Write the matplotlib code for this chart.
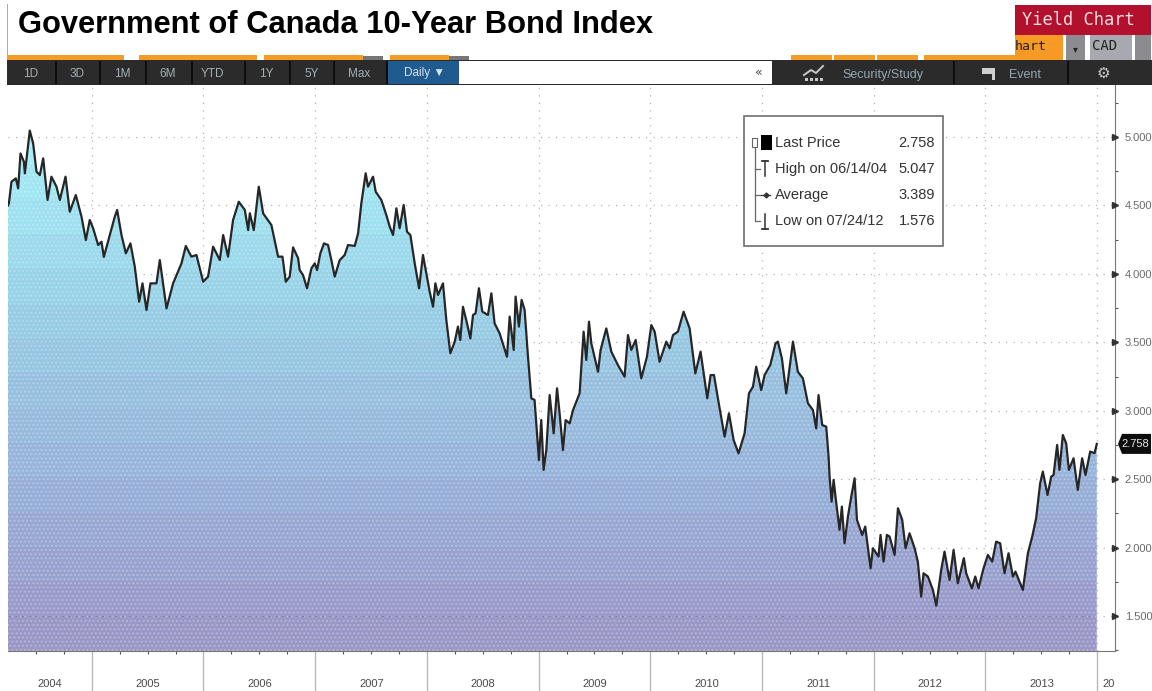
import numpy as np
import matplotlib
matplotlib.use("Agg")
import matplotlib.pyplot as plt
from matplotlib.colors import LinearSegmentedColormap
from matplotlib.patches import Polygon, Rectangle

TITLE = "Government of Canada 10-Year Bond Index"
YEAR_LABELS = ["2004", "2005", "2006", "2007", "2008", "2009", "2010", "2011", "2012", "2013", "20"]
YEAR_LABEL_POS = [2004.62, 2005.5, 2006.5, 2007.5, 2008.5, 2009.5, 2010.5, 2011.5, 2012.5, 2013.5, 2014.1]
YEAR_EDGES = list(range(2005, 2015))
Y_TICKS = [1.5, 2.0, 2.5, 3.0, 3.5, 4.0, 4.5, 5.0]
BUTTONS = ["1D", "3D", "1M", "6M", "YTD", "1Y", "5Y", "Max"]
LEGEND_ROWS = [("Last Price", "2.758"), ("High on 06/14/04", "5.047"),
               ("Average", "3.389"), ("Low on 07/24/12", "1.576")]
LAST_PRICE = 2.758

dates = [2004.25,2004.258,2004.281,2004.32,2004.341,2004.362,2004.392,2004.401,2004.445,2004.475,2004.505,2004.535,2004.565,2004.604,2004.639,2004.684,2004.714,2004.765,2004.803,2004.857,2004.908,2004.947,2004.982,
2005.012,2005.057,2005.087,2005.108,2005.161,2005.206,2005.227,2005.266,2005.305,2005.346,2005.385,2005.424,2005.454,2005.49,2005.525,2005.579,2005.609,2005.669,2005.728,2005.803,2005.842,2005.892,2005.937,2005.997,
2006.041,2006.086,2006.146,2006.176,2006.22,2006.265,2006.316,2006.37,2006.4,2006.415,2006.45,2006.495,2006.534,2006.608,2006.668,2006.707,2006.737,2006.772,2006.802,2006.847,2006.861,2006.891,2006.927,2006.966,2006.996,
2007.017,2007.046,2007.079,2007.115,2007.145,2007.175,2007.219,2007.264,2007.294,2007.354,2007.384,2007.413,2007.452,2007.473,2007.518,2007.542,2007.592,2007.637,2007.667,2007.697,2007.727,2007.756,2007.792,2007.822,2007.852,2007.891,2007.93,2007.965,2007.995,
2008.025,2008.055,2008.076,2008.1,2008.144,2008.174,2008.21,2008.249,2008.278,2008.299,2008.323,2008.359,2008.389,2008.413,2008.436,2008.466,2008.496,2008.547,2008.577,2008.606,2008.651,2008.717,2008.741,2008.777,2008.794,2008.824,2008.848,2008.875,2008.905,2008.935,2008.964,
2009.003,2009.024,2009.045,2009.069,2009.099,2009.135,2009.165,2009.188,2009.218,2009.242,2009.278,2009.308,2009.367,2009.403,2009.427,2009.451,2009.472,2009.532,2009.555,2009.606,2009.651,2009.71,2009.77,2009.8,2009.83,2009.869,2009.919,2009.97,
2010.009,2010.039,2010.083,2010.143,2010.173,2010.203,2010.247,2010.298,2010.352,2010.403,2010.45,2010.51,2010.54,2010.57,2010.605,2010.665,2010.704,2010.746,2010.79,2010.844,2010.883,2010.919,2010.948,2010.993,
2011.023,2011.074,2011.121,2011.142,2011.178,2011.217,2011.277,2011.321,2011.366,2011.411,2011.456,2011.485,2011.506,2011.539,2011.575,2011.596,2011.605,2011.623,2011.641,2011.665,2011.694,2011.715,2011.739,2011.769,2011.799,2011.829,2011.85,2011.897,2011.924,2011.972,2011.993,
2012.043,2012.061,2012.088,2012.118,2012.142,2012.187,2012.217,2012.255,2012.285,2012.321,2012.366,2012.395,2012.425,2012.446,2012.485,2012.53,2012.56,2012.604,2012.634,2012.679,2012.715,2012.753,2012.807,2012.828,2012.879,2012.909,2012.938,2012.983,
2013.022,2013.061,2013.096,2013.132,2013.171,2013.207,2013.246,2013.269,2013.335,2013.38,2013.419,2013.454,2013.49,2013.514,2013.556,2013.589,2013.61,2013.642,2013.663,2013.693,2013.723,2013.747,2013.789,2013.827,2013.866,2013.896,2013.938,2013.977,2013.997]

yields = [4.50,4.515,4.673,4.698,4.625,4.88,4.82,4.734,5.047,4.954,4.747,4.722,4.844,4.54,4.71,4.637,4.54,4.71,4.454,4.576,4.418,4.247,4.394,
4.333,4.211,4.235,4.124,4.284,4.418,4.467,4.284,4.15,4.223,4.053,3.797,3.931,3.736,3.931,3.931,4.101,3.748,3.931,4.077,4.204,4.126,4.138,3.943,
3.98,4.199,4.101,4.284,4.126,4.394,4.527,4.467,4.32,4.443,4.32,4.637,4.442,4.357,4.126,4.126,3.943,3.98,4.194,4.114,4.028,3.992,3.895,4.04,4.077,
4.028,4.15,4.223,4.211,4.10,3.98,4.10,4.138,4.211,4.204,4.296,4.515,4.735,4.637,4.71,4.60,4.54,4.43,4.345,4.284,4.479,4.333,4.503,4.308,4.284,4.077,3.895,4.138,4.004,
3.87,3.76,3.931,3.846,3.931,3.663,3.42,3.505,3.615,3.517,3.76,3.639,3.529,3.70,3.712,3.895,3.724,3.70,3.858,3.639,3.566,3.395,3.688,3.444,3.834,3.615,3.81,3.736,3.395,3.091,3.079,
2.64,2.933,2.568,2.714,3.115,2.835,3.164,2.981,2.713,2.932,2.908,3.005,3.127,3.578,3.371,3.651,3.492,3.285,3.444,3.602,3.432,3.334,3.249,3.553,3.444,3.517,3.237,3.395,
3.626,3.578,3.358,3.505,3.456,3.553,3.578,3.724,3.602,3.273,3.432,3.091,3.261,3.261,3.091,2.811,2.981,2.786,2.689,2.835,3.127,3.176,3.322,3.151,
3.261,3.334,3.492,3.505,3.383,3.127,3.505,3.285,3.237,3.055,3.005,2.871,3.115,2.896,2.884,2.665,2.519,2.336,2.495,2.324,2.13,2.3,2.032,2.227,2.373,2.507,2.203,2.093,2.154,1.849,1.996,
1.935,2.093,1.898,2.093,2.081,1.947,2.288,2.203,1.996,2.105,1.996,1.898,1.642,1.813,1.789,1.691,1.576,1.837,1.971,1.764,1.983,1.74,1.923,1.813,1.703,1.789,1.703,1.849,
1.947,1.898,2.044,2.032,1.813,1.959,1.789,1.825,1.691,1.959,2.081,2.215,2.47,2.556,2.385,2.519,2.531,2.75,2.568,2.823,2.762,2.568,2.653,2.422,2.653,2.531,2.702,2.69,2.758]

W, H = 1152, 691
fig = plt.figure(figsize=(W / 100, H / 100), dpi=100, facecolor="white")

L, R, T, B = 8, 1115, 85, 651
ax = fig.add_axes([L / W, 1 - B / H, (R - L) / W, (B - T) / H])
ax.set_xlim(2004.25, 2014.16)
ax.set_ylim(1.245, 5.38)

ax.grid(True, axis="both", color="#b4b4b4", ls=(0, (1, 5)), lw=0.9, zorder=1)
ax.set_axisbelow(True)
ax.set_xticks(YEAR_EDGES)
ax.set_yticks(Y_TICKS)
ax.set_yticks(np.arange(1.25, 5.3, 0.5), minor=True)
ax.tick_params(axis="x", which="major", length=29, color="#b8b8b8", width=1.0, labelbottom=False)
ax.set_xticks(np.arange(2004.5, 2014, 0.25), minor=True)
ax.tick_params(axis="x", which="minor", length=2.5, color="#555555", width=0.8)
ax.yaxis.tick_right()
ax.tick_params(axis="y", which="major", length=0, pad=7, labelsize=8, labelcolor="#6a6a6a")
ax.tick_params(axis="y", which="minor", length=2.5, color="#555555", width=0.8, direction="out")
ax.set_yticklabels([f"{v:.3f}" for v in Y_TICKS], fontfamily="Liberation Sans")
for s in ("top", "left"):
    ax.spines[s].set_visible(False)
ax.spines["right"].set_color("#777777")
ax.spines["bottom"].set_color("#777777")

cmap = LinearSegmentedColormap.from_list("fill", ["#9a97c6", "#97b2da", "#97cfe6", "#a4edf7"])
bands = np.linspace(1, 0, 15)[:, None]
im = ax.imshow(bands, cmap=cmap, vmin=0, vmax=1, aspect="auto", extent=(2004.25, 2014.0, 1.245, 5.05),
               zorder=2, interpolation="nearest")
ax.set_xlim(2004.25, 2014.16)
ax.set_ylim(1.245, 5.38)
outline = Polygon(list(zip(dates, yields)) + [(dates[-1], 1.245), (dates[0], 1.245)], closed=True,
                  transform=ax.transData, facecolor="none", edgecolor="none")
ax.add_patch(outline)
im.set_clip_path(outline)
texture = Polygon(list(zip(dates, yields)) + [(dates[-1], 1.245), (dates[0], 1.245)], closed=True,
                  facecolor="none", edgecolor=(1, 1, 1, 0.25), hatch="....", lw=0, zorder=3)
ax.add_patch(texture)
ax.axhline(1.5, xmax=0.98, color="#7d7db0", ls=(0, (2, 4)), lw=0.8, zorder=3)
ax.plot(dates, yields, color="#262626", lw=1.6, zorder=4)
ax.plot([2014.16] * len(Y_TICKS), Y_TICKS, ls="none", marker=">", ms=4, color="#333333", clip_on=False, zorder=5)

# Terminal chrome drawn in pixel space on an overlay
ov = fig.add_axes([0, 0, 1, 1], facecolor="none", zorder=10)
ov.set_xlim(0, W)
ov.set_ylim(H, 0)
ov.axis("off")
SANS = "Liberation Sans"
MONO = "DejaVu Sans Mono"

def box(x0, y0, x1, y1, c, **kw):
    ov.add_patch(Rectangle((x0, y0), x1 - x0, y1 - y0, facecolor=c, edgecolor=kw.pop("ec", "none"), **kw))

ov.text(18, 25, TITLE, fontsize=22.2, fontweight="bold", family=SANS, va="center", color="black")
box(6.5, 4, 7.5, 57, "#f0a030")
for a, b in [(7, 124), (139, 257), (264, 363), (390, 449), (791, 832), (834, 875), (877, 918), (924, 1015)]:
    box(a, 55, b, 60, "#f39c26")
for a, b in [(363, 383), (449, 469)]:
    box(a, 56, b, 60, "#777777")
box(7, 60, W, 85, "#2b2b2b")
box(388, 61, 459, 84, "#1f5b8e")
box(459, 61, 772, 84, "white")
xs = [31, 77, 122, 168, 212, 266, 312, 359]
seps = [55, 99, 145, 191, 244, 289, 333, 386, 953, 1067]
for s in seps:
    box(s, 61, s + 1.5, 84, "#0c0c0c")
for xp, label in zip(xs, BUTTONS):
    ov.text(xp, 73.5, label, color="#a4b0b6", fontsize=8.5, ha="center", va="center", family=SANS)
ov.text(424, 73, "Daily \u25BC", color="#d8e4ee", fontsize=8.5, ha="center", va="center", family=SANS)
ov.text(759, 72, "\u00AB", color="#444444", fontsize=9, ha="center", va="center")
ov.text(883, 74.5, "Security/Study", color="#94a8b4", fontsize=9, ha="center", va="center", family=SANS)
ov.text(1025, 74.5, "Event", color="#94a8b4", fontsize=9, ha="center", va="center", family=SANS)
ov.text(1103, 73.5, "\u2699", color="#c8c8c8", fontsize=11, ha="center", va="center", family="DejaVu Sans")
ov.plot([804, 811, 816, 823], [75, 70, 73, 66], color="#c8c8c8", lw=1.4)
for bx in (805, 810, 815, 820):
    box(bx, 78, bx + 3, 81, "#c8c8c8")
ov.add_patch(Polygon([(982, 68), (995, 68), (995, 80), (992, 80), (992, 74), (982, 74)], facecolor="#d0d0d0"))
box(1015, 5, W - 1, 35, "#b2102c")
ov.text(1022, 20, "Yield Chart", color="#f4dde0", fontsize=12.3, va="center", family=MONO)
box(1015, 35, 1063, 60, "#f79a25")
ov.text(1015, 46, "hart", color="#222222", fontsize=9.5, va="center", family=MONO)
box(1066, 35, 1085, 60, "#8c8c90")
ov.text(1075, 49, "\u25BE", color="#222222", fontsize=7, ha="center", va="center")
box(1090, 35, 1132, 60, "#a8a8b0")
ov.text(1105, 46, "CAD", color="#222222", fontsize=10, ha="center", va="center", family=MONO)
box(1135, 35, W - 1, 60, "#8c8c90")

# Legend
box(743.5, 115.5, 942.5, 245.5, "white", ec="#6e6e6e", lw=1.2, zorder=6)
rows_y = [143, 169, 195, 221]
for (name, val), yp in zip(LEGEND_ROWS, rows_y):
    ov.text(775, yp, name, color="#333333", fontsize=10.5, va="center", family=SANS, zorder=7)
    ov.text(935, yp, val, color="#333333", fontsize=10.5, va="center", ha="right", family=SANS, zorder=7)
ov.plot([755, 755, 760], [147, 221, 221], color="#666666", lw=0.9, zorder=7)
for yp in (169, 195):
    ov.plot([755, 760], [yp, yp], color="#666666", lw=0.9, zorder=7)
box(752, 138, 757, 147, "white", ec="#666666", lw=0.8, zorder=7)
box(761, 135, 772, 150, "black", zorder=7)
ov.plot([765, 765], [161, 176], color="#333333", lw=1.1, zorder=7)
ov.plot([762, 768], [161, 161], color="#333333", lw=1.3, zorder=7)
ov.plot([761, 770], [195, 195], color="#333333", lw=0.9, zorder=7)
ov.plot([765.5], [195], color="#333333", marker="D", ms=2.5, zorder=7)
ov.plot([765, 765], [214, 229], color="#333333", lw=1.1, zorder=7)
ov.plot([762, 768], [229, 229], color="#333333", lw=1.3, zorder=7)

# Year labels
for lab, xv in zip(YEAR_LABELS, YEAR_LABEL_POS):
    xp = 92 + (xv - 2005) * 111.7
    ov.text(xp, 684, lab, color="#4a4a4a", fontsize=8, ha="center", va="center", family=SANS)

# Last price tag
yp = T + (5.38 - LAST_PRICE) / (5.38 - 1.245) * (B - T)
ov.add_patch(Polygon([(1118, yp), (1122, yp - 10), (W - 1, yp - 10), (W - 1, yp + 10), (1122, yp + 10)],
                     facecolor="#0d0d0d", edgecolor="none"))
ov.text(1135, yp, f"{LAST_PRICE:.3f}", color="#e8e8e8", fontsize=8, ha="center", va="center", family=SANS)

fig.savefig("out.png", dpi=100)
